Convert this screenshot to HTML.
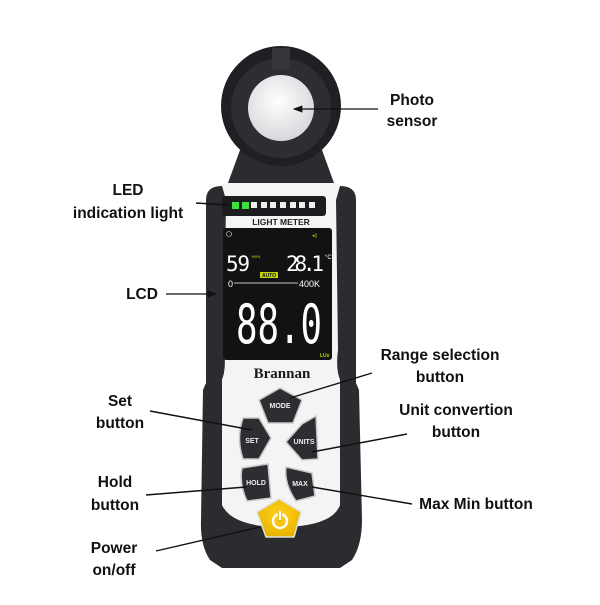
<!DOCTYPE html>
<html><head><style>
html,body{margin:0;padding:0;background:#fff;}
svg text{font-family:"Liberation Sans",sans-serif;}
.l{font-weight:bold;font-size:15.5px;fill:#111;text-anchor:middle;}
</style></head><body>
<svg width="600" height="600" viewBox="0 0 600 600" xmlns="http://www.w3.org/2000/svg">
<defs>
<marker id="a" markerWidth="8" markerHeight="6" refX="7" refY="3" orient="auto"><path d="M0,0 L8,3 L0,6 z" fill="#111"/></marker>
<radialGradient id="ball" cx="0.45" cy="0.4" r="0.6"><stop offset="0" stop-color="#fff"/><stop offset="1" stop-color="#d8d8dc"/></radialGradient>
<radialGradient id="yb" cx="0.5" cy="0.4" r="0.6"><stop offset="0" stop-color="#ffd21a"/><stop offset="1" stop-color="#e8b400"/></radialGradient>
</defs>
<!-- sensor head -->
<path d="M240,150 L322,150 L334,183 L228,183 Z" fill="#2a2c30"/>
<circle cx="281" cy="106" r="60" fill="#1e2024"/>
<circle cx="281" cy="108" r="50" fill="#2c2e33"/>
<rect x="272" y="48" width="18" height="22" fill="#34363b"/>
<circle cx="281" cy="108" r="33" fill="url(#ball)"/>
<!-- body -->
<path d="M212,200 Q212,183 235,183 L328,183 Q352,183 352,200 L356,520 L206,520 Z" fill="#f4f4f4"/>
<path d="M206,200 Q206,186 222,186 L226,200 L224,350 Q228,380 214,390 L206,400 Z" fill="#2a2c30"/>
<path d="M356,200 Q356,186 340,186 L336,200 L338,350 Q334,380 348,390 L356,400 Z" fill="#2a2c30"/>
<path d="M203,390 Q215,360 222,372 L222,505 Q230,520 262,524 L300,524 Q334,520 340,505 L340,372 Q347,360 359,390 L362,520 Q362,545 352,560 L340,568 L222,568 L210,560 Q200,545 201,520 Z" fill="#2a2c30"/>
<path d="M222,380 L222,505 Q230,522 262,526 L300,526 Q334,522 340,505 L340,380 Q335,395 330,400 L330,498 Q322,512 300,514 L262,514 Q240,512 232,498 L232,400 Q226,392 222,380 Z" fill="#f4f4f4"/>
<!-- LED strip -->
<rect x="222" y="196" width="104" height="20" rx="3" fill="#1a1c1f"/>
<g fill="#eee">
<rect x="232" y="202" width="7" height="7" fill="#3ee03e"/><rect x="242" y="202" width="7" height="7" fill="#3ee03e"/>
<rect x="251" y="202" width="6" height="6"/><rect x="261" y="202" width="6" height="6"/><rect x="270" y="202" width="6" height="6"/><rect x="280" y="202" width="6" height="6"/><rect x="290" y="202" width="6" height="6"/><rect x="299" y="202" width="6" height="6"/><rect x="309" y="202" width="6" height="6"/>
</g>
<text x="281" y="225" font-size="8.5" font-weight="bold" text-anchor="middle" fill="#222">LIGHT METER</text>
<!-- LCD -->
<rect x="223" y="228" width="109" height="132" rx="3" fill="#111214"/>
<circle cx="229" cy="234" r="2.5" fill="none" stroke="#aaa" stroke-width="0.8"/>
<text x="312" y="237" font-size="5" fill="#c6d400">◂▯</text>
<text x="226" y="271" font-size="21" fill="#fff" style="font-family:'DejaVu Sans Mono',monospace" textLength="24">59</text>
<text x="251" y="258" font-size="4" fill="#c6d400">%RH</text>
<text x="286" y="271" font-size="21" fill="#fff" style="font-family:'DejaVu Sans Mono',monospace" textLength="38">28.1</text>
<text x="325" y="259" font-size="6" fill="#fff">°C</text>
<rect x="260" y="272" width="18" height="6" fill="#c6d400"/>
<text x="269" y="277" font-size="5" font-weight="bold" text-anchor="middle" fill="#111">AUTO</text>
<text x="228" y="287" font-size="9" fill="#fff">0</text>
<line x1="234" y1="283" x2="298" y2="283" stroke="#fff" stroke-width="0.8"/>
<text x="299" y="287" font-size="9" fill="#fff">400K</text>
<text x="236" y="343" font-size="54" fill="#fff" style="font-family:'DejaVu Sans Mono',monospace" textLength="86" lengthAdjust="spacingAndGlyphs">88.0</text>
<text x="320" y="357" font-size="5" font-weight="bold" fill="#c6d400">LUx</text>
<text x="282" y="378" font-size="15" font-weight="bold" text-anchor="middle" fill="#1a1a1a" style="font-family:'Liberation Serif',serif">Brannan</text>
<!-- buttons -->
<g fill="#2c2e32" stroke="#c8c8c8" stroke-width="1.5" stroke-linejoin="round">
<path d="M280,388 L302,400 L293,423 L268,423 L259,400 Z"/>
<path d="M243,418 L259,418 L271,438 L259,459 L243,459 Q236,438 243,418 Z"/>
<path d="M316,416 L318,459 L302,460 L286,442 L302,424 Z"/>
<path d="M242,468 L268,464 L271,498 L247,501 Q239,484 242,468 Z"/>
<path d="M286,467 L312,473 L315,496 L296,501 Q284,484 286,467 Z"/>
</g>
<g font-size="7" font-weight="bold" fill="#eee" text-anchor="middle">
<text x="280" y="408">MODE</text><text x="252" y="443">SET</text><text x="304" y="444">UNITS</text><text x="256" y="485">HOLD</text><text x="300" y="486">MAX</text>
</g>
<path d="M279,499 L301,512 L294,537 L266,537 L257,512 Z" fill="url(#yb)" stroke="#ddd" stroke-width="1.5" stroke-linejoin="round"/>
<circle cx="280" cy="521" r="7" fill="none" stroke="#fff" stroke-width="2.4"/>
<line x1="280" y1="511" x2="280" y2="521" stroke="#e8b400" stroke-width="4.5"/>
<line x1="280" y1="511" x2="280" y2="520" stroke="#fff" stroke-width="2.4"/>
<!-- labels -->
<text class="l" x="412" y="105">Photo</text><text class="l" x="412" y="126">sensor</text>
<line x1="378" y1="109" x2="294" y2="109" stroke="#111" stroke-width="1.2" marker-end="url(#a)"/>
<text class="l" x="128" y="195">LED</text><text class="l" x="128" y="218">indication light</text>
<line x1="196" y1="203" x2="228" y2="205" stroke="#111" stroke-width="1.4"/>
<text class="l" x="142" y="299">LCD</text>
<line x1="166" y1="294" x2="216" y2="294" stroke="#111" stroke-width="1.2" marker-end="url(#a)"/>
<text class="l" x="440" y="360">Range selection</text><text class="l" x="440" y="382">button</text>
<line x1="372" y1="373" x2="290" y2="398" stroke="#111" stroke-width="1.4"/>
<text class="l" x="120" y="406">Set</text><text class="l" x="120" y="428">button</text>
<line x1="150" y1="411" x2="252" y2="430" stroke="#111" stroke-width="1.4"/>
<text class="l" x="456" y="415">Unit convertion</text><text class="l" x="456" y="437">button</text>
<line x1="407" y1="434" x2="312" y2="452" stroke="#111" stroke-width="1.4"/>
<text class="l" x="115" y="487">Hold</text><text class="l" x="115" y="510">button</text>
<line x1="146" y1="495" x2="246" y2="487" stroke="#111" stroke-width="1.4"/>
<text class="l" x="476" y="509">Max Min button</text>
<line x1="412" y1="504" x2="312" y2="487" stroke="#111" stroke-width="1.4"/>
<text class="l" x="114" y="553">Power</text><text class="l" x="114" y="575">on/off</text>
<line x1="156" y1="551" x2="260" y2="527" stroke="#111" stroke-width="1.4"/>
</svg>
</body></html>
